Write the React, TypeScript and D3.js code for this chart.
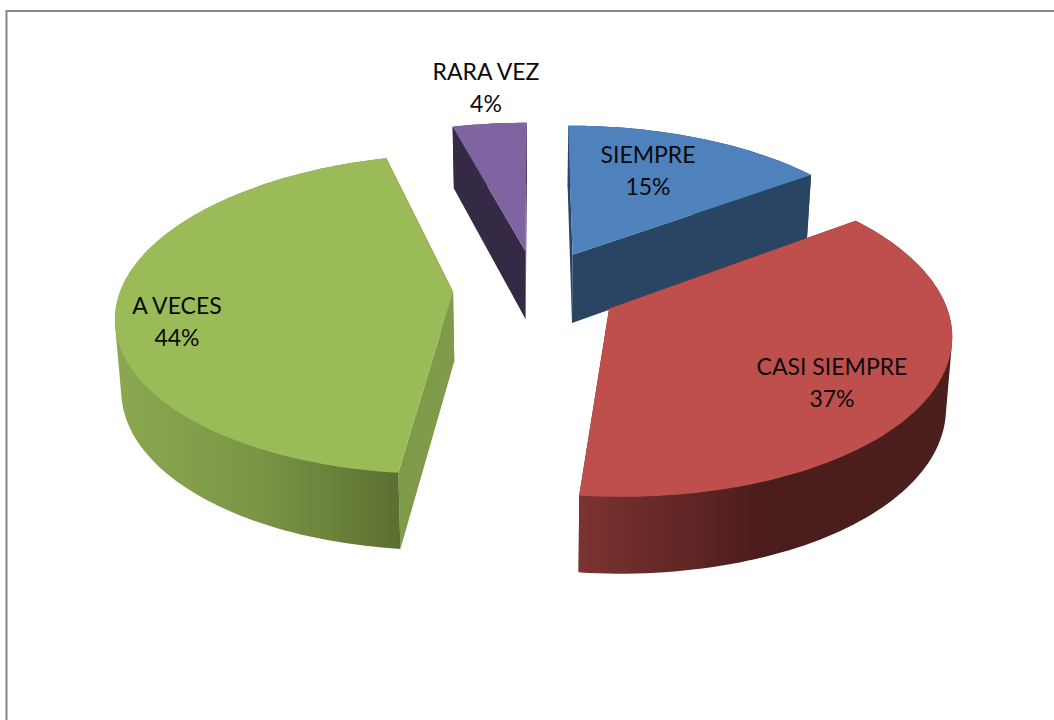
import React from "react";
import * as d3 from "d3";

const categories = ["SIEMPRE", "CASI SIEMPRE", "A VECES", "RARA VEZ"];
const values = [15, 36.7, 44.1, 4.2];
const percentLabels = ["15%", "37%", "44%", "4%"];
const topColors = ["#4f81bd", "#be4f4c", "#9bbb59", "#8064a2"];
const radialWallColors = ["#2a4564", "#4a1c1b", "#7f9a48", "#352a45"];
const rimStops = [
  ["#2a4564", "#2a4564", "#2a4564"],
  ["#7c3331", "#4a1c1b", "#4c1f1f"],
  ["#8ca84f", "#7a9646", "#5c7030"],
  ["#352a45", "#352a45", "#352a45"],
];
const labelCenters = [[648, 155], [832, 367], [177, 306], [486, 72]];
const drawOrder = [3, 0, 2, 1];

const W = 1054, H = 720;
const CX = 536, CY = 288.5, R = 332, RY = 156, K = 0.14, EXPLODE = 0.25;
const xScale = d3.scaleLinear().domain([0, 1]).range([CX, CX + R]);
const yScale = d3.scaleLinear().domain([0, 1]).range([CY, CY - RY]);

type P = [number, number];
const world = (a: number, r: number, mid: number): P => [
  EXPLODE * Math.sin(mid) + r * Math.sin(a),
  EXPLODE * Math.cos(mid) + r * Math.cos(a),
];
const top = ([wx, wy]: P): P => {
  const s = 1 / (1 + K * wy);
  return [xScale(wx * s), yScale(wy * s)];
};
const bottom = (w: P): P => {
  const [x, y] = top(w);
  return [CX + 0.985 * (x - CX), y + 69.6 - 6.4 * w[1]];
};

const line = d3.line<P>().x((p) => p[0]).y((p) => p[1]);
const closed = (pts: P[]) => (line(pts) as string) + "Z";
const pieGen = d3.pie<number>().sort(null).startAngle(0).endAngle(2 * Math.PI);

export default function App() {
  const arcs = pieGen(values);
  const slices = arcs.map((d) => {
    const mid = (d.startAngle + d.endAngle) / 2;
    const n = Math.max(8, Math.ceil((d.endAngle - d.startAngle) * 40));
    const angles = d3.range(n + 1).map((i) => d.startAngle + ((d.endAngle - d.startAngle) * i) / n);
    const rim = angles.map((a) => world(a, 1, mid));
    const apex = world(0, 0, mid);
    const rimTop = rim.map(top);
    const rimBottom = rim.map(bottom);
    const xs = rimTop.map((p) => p[0]);
    const hull = d3.polygonHull([...rimTop, ...rimBottom]) as P[];
    return {
      x0: d3.min(xs) as number,
      x1: d3.max(xs) as number,
      topPath: closed([top(apex), ...rimTop]),
      rimPath: closed(hull),
      wallA: closed([top(apex), top(rim[0]), bottom(rim[0]), bottom(apex)]),
      wallB: closed([top(apex), top(rim[n]), bottom(rim[n]), bottom(apex)]),
    };
  });

  return (
    <svg
      width={W}
      height={H}
      viewBox={`0 0 ${W} ${H}`}
      style={{ position: "absolute", left: 0, top: 0, display: "block", background: "#fff" }}
    >
      <defs>
        {slices.map((s, i) => (
          <linearGradient
            key={i}
            id={`rim${i}`}
            gradientUnits="userSpaceOnUse"
            x1={s.x0}
            x2={s.x1}
            y1={0}
            y2={0}
          >
            {rimStops[i].map((c, j) => (
              <stop key={j} offset={j / (rimStops[i].length - 1)} stopColor={c} />
            ))}
          </linearGradient>
        ))}
      </defs>
      <path d={`M${W},11H6.5V${H}`} fill="none" stroke="#868686" strokeWidth={2} />
      {drawOrder.map((i) => {
        const s = slices[i];
        return (
          <g key={categories[i]}>
            <path d={s.wallA} fill={radialWallColors[i]} />
            <path d={s.wallB} fill={radialWallColors[i]} />
            <path d={s.rimPath} fill={`url(#rim${i})`} />
            <path d={s.topPath} fill={topColors[i]} />
          </g>
        );
      })}
      {categories.map((c, i) => (
        <text
          key={c}
          textAnchor="middle"
          fontFamily="Lato, Carlito, sans-serif"
          fontSize={23}
          fill="#0a0a0a"
        >
          <tspan x={labelCenters[i][0]} y={labelCenters[i][1] + 8}>{c}</tspan>
          <tspan x={labelCenters[i][0]} y={labelCenters[i][1] + 40}>{percentLabels[i]}</tspan>
        </text>
      ))}
    </svg>
  );
}
